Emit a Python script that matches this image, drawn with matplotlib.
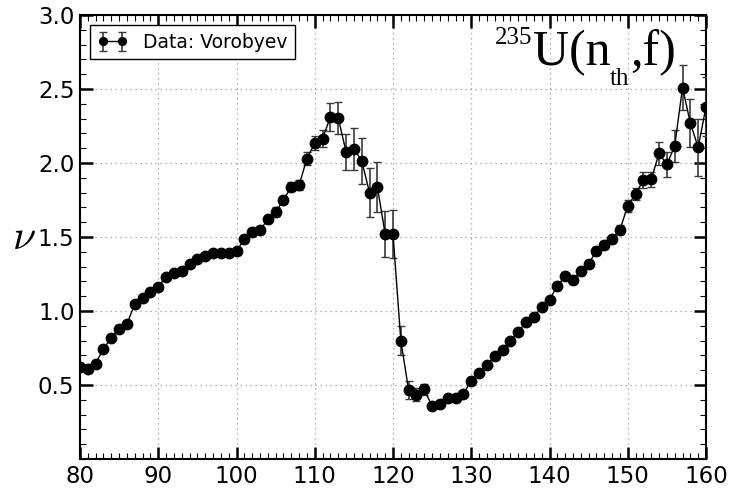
import matplotlib
matplotlib.use("Agg")
import matplotlib.pyplot as plt
from matplotlib.transforms import offset_copy
from matplotlib.ticker import MultipleLocator

x_vals = list(range(80, 161))
nu_vals = [0.62, 0.61, 0.645, 0.745, 0.82, 0.88, 0.915, 1.045, 1.085, 1.13,
           1.165, 1.23, 1.255, 1.27, 1.315, 1.35, 1.37, 1.395, 1.39, 1.395,
           1.405, 1.485, 1.535, 1.545, 1.62, 1.67, 1.75, 1.84, 1.85, 2.03,
           2.135, 2.165, 2.31, 2.305, 2.075, 2.095, 2.015, 1.80, 1.84, 1.52,
           1.52, 0.80, 0.465, 0.435, 0.47, 0.355, 0.37, 0.41, 0.415, 0.44,
           0.53, 0.58, 0.635, 0.695, 0.735, 0.80, 0.86, 0.925, 0.96, 1.025,
           1.075, 1.17, 1.235, 1.21, 1.27, 1.32, 1.405, 1.445, 1.485, 1.55,
           1.71, 1.79, 1.885, 1.89, 2.065, 1.99, 2.115, 2.51, 2.27, 2.105,
           2.38]
nu_err = [0.025, 0.025, 0.025, 0.025, 0.025, 0.02, 0.02, 0.02, 0.02, 0.02,
          0.02, 0.02, 0.02, 0.02, 0.02, 0.02, 0.02, 0.02, 0.02, 0.02,
          0.02, 0.025, 0.025, 0.025, 0.025, 0.03, 0.03, 0.03, 0.035, 0.045,
          0.05, 0.06, 0.095, 0.11, 0.12, 0.14, 0.155, 0.165, 0.17, 0.155,
          0.16, 0.10, 0.06, 0.045, 0.04, 0.02, 0.02, 0.02, 0.02, 0.02,
          0.02, 0.02, 0.02, 0.02, 0.02, 0.02, 0.02, 0.02, 0.02, 0.02,
          0.02, 0.025, 0.025, 0.025, 0.025, 0.025, 0.025, 0.025, 0.025, 0.03,
          0.04, 0.04, 0.055, 0.05, 0.08, 0.085, 0.11, 0.15, 0.16, 0.19,
          0.2]
x_ticks = [80, 90, 100, 110, 120, 130, 140, 150, 160]
y_ticks = [0.5, 1.0, 1.5, 2.0, 2.5, 3.0]
legend_label = "Data: Vorobyev"

plt.rcParams['font.family'] = ['DejaVu Sans']
plt.rcParams['mathtext.fontset'] = 'cm'

fig = plt.figure(figsize=(7.32, 4.93), dpi=100)
ax = fig.add_axes([80/732, 34/493, 626/732, 444/493])

ax.errorbar(x_vals, nu_vals, yerr=nu_err, fmt='-o', color='black',
            ecolor='#3a3a3a', elinewidth=1.2, capsize=3, capthick=1.0,
            markersize=7.5, linewidth=1.0, label=legend_label, zorder=3)

ax.set_xlim(80, 160)
ax.set_ylim(0, 3.0)
ax.set_xticks(x_ticks)
ax.set_yticks(y_ticks)
ax.set_yticklabels([f"{v:.1f}" for v in y_ticks])
ax.xaxis.set_minor_locator(MultipleLocator(1))
ax.yaxis.set_minor_locator(MultipleLocator(0.1))
ax.tick_params(which='both', direction='in', top=True, right=True,
               labelsize=16.5)
ax.tick_params(which='major', length=9, width=1.8, pad=4)
ax.tick_params(which='minor', length=4.5, width=0.8)
for s in ax.spines.values():
    s.set_linewidth(1.5)
ax.grid(True, which='major', color='#999999', linestyle=(0, (1, 3)),
        linewidth=0.9)

ax.set_ylabel(r'$\nu$', fontsize=30, rotation=0, labelpad=10, va='center')

leg = ax.legend(loc='upper left', fontsize=13.5, fancybox=False,
                edgecolor='black', framealpha=1.0, handlelength=1.6,
                markerscale=0.75, borderaxespad=0.55, numpoints=2)
leg.get_frame().set_linewidth(1.0)

# title-like label: 235U(n_th,f)
fig.canvas.draw()
renderer = fig.canvas.get_renderer()
pieces = [("235", 18, 21), ("U(n", 36, 0), ("th", 18, -20), (",f)", 36, 0)]
x0, y0 = (495 - 80) / 626, (459 - 65) / 444
cur = 0.0
for txt, fs, dy in pieces:
    tr = offset_copy(ax.transAxes, fig=fig, x=cur, y=dy, units='dots')
    t = ax.text(x0, y0, txt, transform=tr, fontsize=fs,
                family='Liberation Serif', ha='left', va='baseline')
    cur += t.get_window_extent(renderer).width

fig.savefig("out.png", dpi=100)
